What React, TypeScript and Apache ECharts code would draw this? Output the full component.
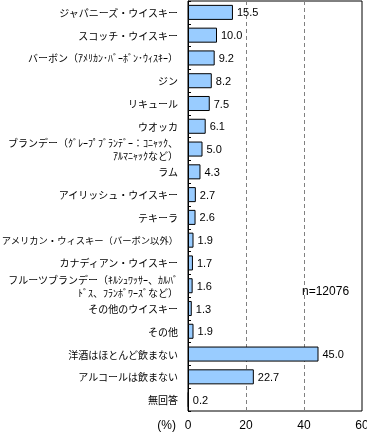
import React, { useEffect, useRef } from "react";
import * as echarts from "echarts";

const categories: string[] = [
  "ジャパニーズ・ウイスキー",
  "スコッチ・ウイスキー",
  "バーボン（ｱﾒﾘｶﾝ･ﾊﾞｰﾎﾞﾝ･ｳｨｽｷｰ）",
  "ジン",
  "リキュール",
  "ウオッカ",
  "ブランデー（ｸﾞﾚｰﾌﾟﾌﾞﾗﾝﾃﾞｰ：ｺﾆｬｯｸ、\nｱﾙﾏﾆｬｯｸなど）",
  "ラム",
  "アイリッシュ・ウイスキー",
  "テキーラ",
  "アメリカン・ウィスキー（バーボン以外）",
  "カナディアン・ウイスキー",
  "フルーツブランデー（ｷﾙｼｭﾜｯｻｰ、ｶﾙﾊﾞ\nﾄﾞｽ、ﾌﾗﾝﾎﾞﾜｰｽﾞなど）",
  "その他のウイスキー",
  "その他",
  "洋酒はほとんど飲まない",
  "アルコールは飲まない",
  "無回答",
];

const values: number[] = [15.5, 10.0, 9.2, 8.2, 7.5, 6.1, 5.0, 4.3, 2.7, 2.6, 1.9, 1.7, 1.6, 1.3, 1.9, 45.0, 22.7, 0.2];

const xTicks = { min: 0, max: 60, interval: 20 };
const unitLabel = "(%)";
const sampleNote = "n=12076";
const longLabel = categories[10];

export default function App() {
  const ref = useRef<HTMLDivElement>(null);
  useEffect(() => {
    if (!ref.current) return;
    const chart = echarts.init(ref.current, null, { renderer: "svg" });
    chart.setOption({
      animation: false,
      grid: {
        left: 188,
        right: 5,
        top: 1,
        bottom: 23,
        containLabel: false,
        outerBoundsMode: "none",
        show: true,
        borderColor: "#000",
        borderWidth: 1,
        backgroundColor: "transparent",
      },
      xAxis: {
        type: "value",
        min: xTicks.min,
        max: xTicks.max,
        interval: xTicks.interval,
        axisLine: { show: false },
        axisTick: { show: false },
        axisLabel: {
          color: "#000",
          fontSize: 12,
          fontFamily: "Liberation Sans",
          margin: 8,
        },
        splitLine: {
          show: true,
          showMinLine: false,
          showMaxLine: false,
          lineStyle: { color: "#808080", type: [4, 3], width: 1 },
        },
      },
      yAxis: {
        type: "category",
        inverse: true,
        data: categories,
        axisLine: { show: true, lineStyle: { color: "#000", width: 1 } },
        axisTick: { show: true, inside: true, length: 3, lineStyle: { color: "#000" } },
        axisLabel: {
          color: "#000",
          fontSize: 10,
          fontFamily: "Noto Sans CJK JP",
          margin: 10,
          lineHeight: 13,
          interval: 0,
          formatter: (v: string) => (v === longLabel ? "{s|" + v + "}" : v),
          rich: {
            s: {
              fontSize: 9.3,
              fontFamily: "Noto Sans CJK JP",
              color: "#000",
            },
          },
        },
      },
      series: [
        {
          type: "bar",
          data: values,
          barWidth: "66%",
          itemStyle: { color: "#99CCFF", borderColor: "#000", borderWidth: 1 },
          label: {
            show: true,
            position: "right",
            distance: 4,
            color: "#000",
            fontSize: 11,
            fontFamily: "Liberation Sans",
            formatter: (p: any) => Number(p.value).toFixed(1),
          },
        },
      ],
      graphic: [
        {
          type: "text",
          x: 176,
          y: 425,
          style: {
            text: unitLabel,
            fill: "#000",
            fontSize: 12,
            fontFamily: "Liberation Sans",
            textAlign: "right",
            textVerticalAlign: "middle",
          },
        },
        {
          type: "text",
          x: 302,
          y: 291,
          style: {
            text: sampleNote,
            fill: "#000",
            fontSize: 12,
            fontFamily: "Liberation Sans",
            textAlign: "left",
            textVerticalAlign: "middle",
          },
        },
      ],
    });
    return () => chart.dispose();
  }, []);
  return (
    <div
      ref={ref}
      style={{ position: "fixed", left: 0, top: 0, width: 367, height: 434 }}
    />
  );
}
